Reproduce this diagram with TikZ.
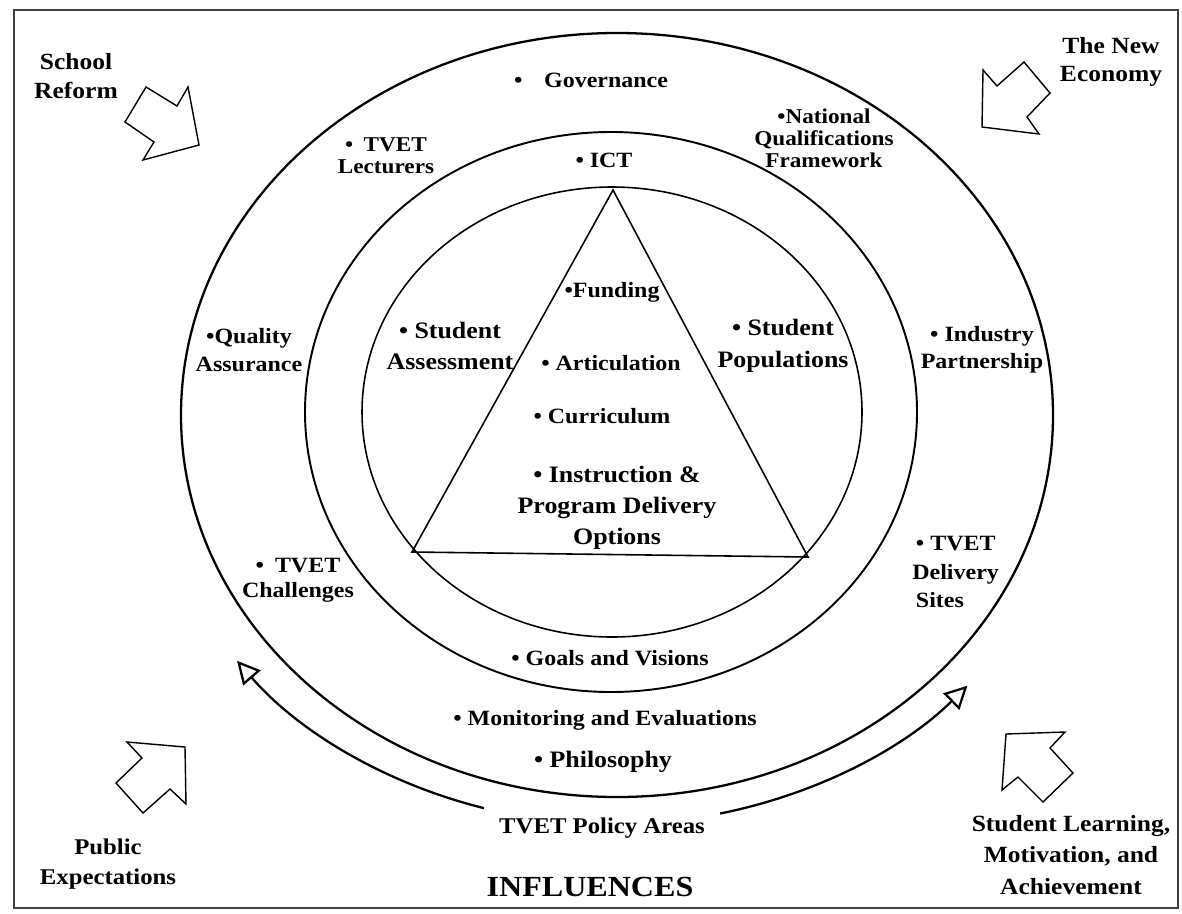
\documentclass[tikz,border=0pt]{standalone}
\usepackage{fontspec}
\setmainfont{Liberation Serif}[FakeStretch=1.1]
\usepackage{tikz}
\usetikzlibrary{arrows.meta,calc}

\begin{document}
\begin{tikzpicture}[x=0.02cm,y=-0.02cm,
  every node/.style={inner sep=0pt,align=center},
  area/.style={font=\bfseries\fontsize{12.4}{14.4}\selectfont},
  tight/.style={font=\bfseries\fontsize{12}{12.6}\selectfont},
  core/.style={font=\bfseries\fontsize{13.4}{18}\selectfont},
  force/.style={font=\bfseries\fontsize{13.2}{16.2}\selectfont},
  influence/.style={line width=0.8pt,line join=miter},
  policy/.style={line width=1.3pt,-{Triangle[open,length=13pt,width=13pt]}}]
\useasboundingbox (0,0) rectangle (1182,913);
\draw[line width=1.4pt,black!75] (14,10) rectangle (1178,908);

% rings and core
\coordinate (hub) at (614,414);
\draw[line width=1.3pt] (617,415) ellipse [x radius=436,y radius=382];
\draw[line width=1.1pt] (611,412) ellipse [x radius=306,y radius=280];
\draw[line width=0.9pt] (612,412) ellipse [x radius=250,y radius=225];
\draw[line width=0.9pt] (613,190) -- (412,552) -- (808,557) -- cycle;

% outer ring
\node[area] (gov) at (591,80) {•\quad Governance};
\node[tight] (lect) at (386,156) {•\enspace TVET\\Lecturers};
\node[tight] (nqf) at (824,138) {•National\\Qualifications\\Framework};
\node[area,font=\bfseries\fontsize{12.4}{15.9}\selectfont] (qa) at (249,350) {•Quality\\Assurance};
\node[area,font=\bfseries\fontsize{12.4}{15.4}\selectfont] (ind) at (982,350) {• Industry\\Partnership};
\node[area] (chal) at (298,580) {•\enspace TVET\\Challenges};
\node[area,font=\bfseries\fontsize{12.4}{16.2}\selectfont,anchor=west,align=left] (sites) at (912,572) {\,• TVET\\Delivery\\\,Sites};
\node[area] (mon) at (605,720) {• Monitoring and Evaluations};
\node[core] (phil) at (603,762) {• Philosophy};

% middle ring
\node[area] (ict) at (604,160) {• ICT};
\node[core] (assess) at (450,346) {• Student\\Assessment};
\node[core] (pop) at (783,346) {• Student\\Populations};
\node[area] (goals) at (610,658) {• Goals and Visions};

% triangle
\node[area] (fund) at (612,292) {•Funding};
\node[area] (art) at (611,363) {• Articulation};
\node[area] (curr) at (602,416) {• Curriculum};
\node[core,font=\bfseries\fontsize{13.4}{17.6}\selectfont] (instr) at (617,508) {• Instruction \&\\Program Delivery\\Options};

% influences
\node[force] (reform) at (76,76) {School\\Reform};
\node[force] (econ) at (1111,62) {The New\\Economy};
\node[force,font=\bfseries\fontsize{12.8}{17}\selectfont] (public) at (108,864) {Public\\Expectations};
\node[force,font=\bfseries\fontsize{13.2}{18}\selectfont] (learn) at (1071,855) {Student Learning,\\Motivation, and\\Achievement};
\node[font=\bfseries\fontsize{12.8}{14}\selectfont] (areas) at (602,828) {TVET Policy Areas};
\node[font=\bfseries\fontsize{16.6}{18}\selectfont] (infl) at (590,887) {INFLUENCES};

\draw[influence] (146,87) -- (177,106) -- (188,87) -- (199,145) -- (143,160) -- (154,142) -- (125,122) -- cycle;
\draw[influence] (983,70) -- (997,86) -- (1024,62) -- (1050,93) -- (1027,117) -- (1039,134) -- (982,127) -- cycle;
\draw[influence] (127,742) -- (142,758) -- (116,783) -- (143,813) -- (170,789) -- (186,804) -- (185,747) -- cycle;
\draw[influence] (1065,732) -- (1050,748) -- (1073,773) -- (1043,802) -- (1018,777) -- (1002,790) -- (1006,734) -- cycle;

% policy arrows
\coordinate (polL) at ($(hub)+(106:472 and 410)$);
\coordinate (polR) at ($(hub)+(77:472 and 410)$);
\draw[policy] (polL) arc[start angle=106,end angle=143,x radius=472,y radius=410];
\draw[policy] (polR) arc[start angle=77,end angle=41.5,x radius=472,y radius=410];
\end{tikzpicture}
\end{document}
